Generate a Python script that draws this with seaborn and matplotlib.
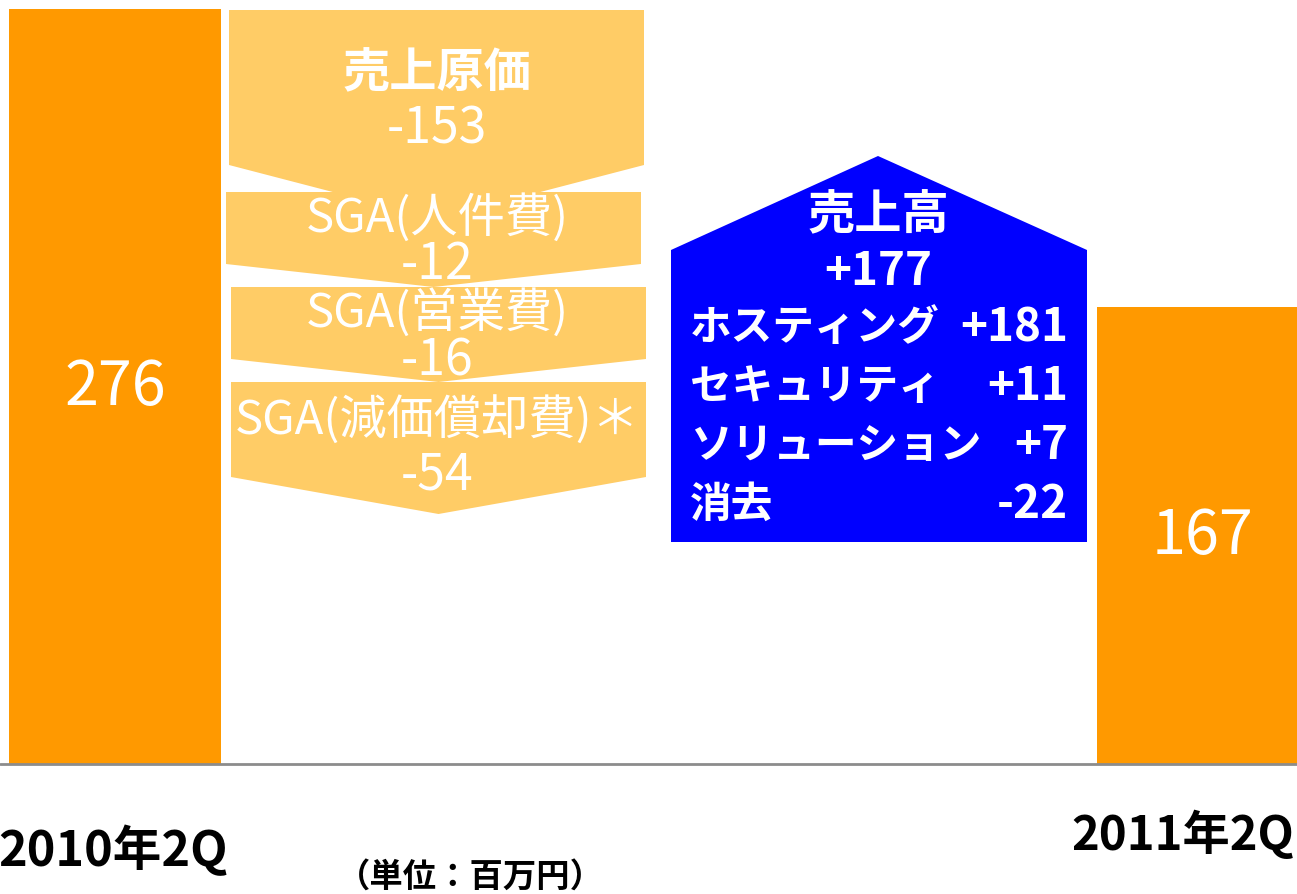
import matplotlib
matplotlib.use("Agg")
import matplotlib.pyplot as plt
from matplotlib.patches import Polygon
import seaborn as sns

# データ (単位: 百万円)
periods = ["2010年2Q", "2011年2Q"]
op_profit = [276, 167]

cost_items = ["売上原価", "SGA(人件費)", "SGA(営業費)", "SGA(減価償却費)＊"]
cost_values = [-153, -12, -16, -54]

sales_total = 177
sales_items = ["ホスティング", "セキュリティ", "ソリューション", "消去"]
sales_values = [181, 11, 7, -22]

unit_label = "（単位：百万円）"

sns.set_style("white")
plt.rcParams['font.family'] = ['Noto Sans CJK JP', 'DejaVu Sans']

W, H = 1297, 895
fig = plt.figure(figsize=(W / 100, H / 100), dpi=100)
ax = fig.add_axes([0, 0, 1, 1])


def px(x, y):
    # ピクセル位置 -> axes座標
    return (x / W, 1 - y / H)


# 営業利益の棒
sns.barplot(x=periods, y=op_profit, color="#FF9900", saturation=1,
            width=0.194, linewidth=0, ax=ax)
ax.set_xlim(-0.1057, 1.0864)
ax.set_ylim(-47.5, 279.7)
ax.axis('off')
ax.axhline(0, color="#8c8c8c", lw=2, zorder=1)

for i, v in enumerate(op_profit):
    ax.text(i, v / 2, str(v), color="white", fontsize=44,
            ha="center", va="center")

# コスト (下向き矢印)
arrows = [
    (229, 644, 11, 166, 220),
    (226, 641, 193, 265, 288),
    (231, 646, 288, 360, 383),
    (231, 646, 383, 478, 515),
]
label_y = [(73, 130), (218, 265), (313, 362), (420, 476)]
for k, ((x0, x1, yt, yb, tip), (ly, vy)) in enumerate(zip(arrows, label_y)):
    cx = (x0 + x1) / 2
    pts = [px(x0, yt), px(x1, yt), px(x1, yb), px(cx, tip), px(x0, yb)]
    ax.add_patch(Polygon(pts, closed=True, transform=ax.transAxes,
                         facecolor="#FFCC66", edgecolor="none", zorder=3 + k))
    bold = "bold" if k == 0 else "normal"
    ax.text(*px(437, ly), cost_items[k], transform=ax.transAxes, color="white",
            fontsize=34, fontweight=bold, ha="center", va="center", zorder=10)
    ax.text(*px(437, vy), f"{cost_values[k]:d}", transform=ax.transAxes,
            color="white", fontsize=36, ha="center", va="center", zorder=10)

# 売上高 (上向き矢印)
house = [px(671, 543), px(671, 251), px(878, 157), px(1087, 251), px(1087, 543)]
ax.add_patch(Polygon(house, closed=True, transform=ax.transAxes,
                     facecolor="#0000FF", edgecolor="none", zorder=3))
ax.text(*px(878, 215), "売上高", transform=ax.transAxes, color="white",
        fontsize=34, fontweight="bold", ha="center", va="center", zorder=10)
ax.text(*px(878, 272), f"+{sales_total}", transform=ax.transAxes, color="white",
        fontsize=33, fontweight="bold", ha="center", va="center", zorder=10)
for k, (name, v) in enumerate(zip(sales_items, sales_values)):
    y = 328 + k * 59
    ax.text(*px(690, y), name, transform=ax.transAxes, color="white",
            fontsize=30, fontweight="bold", ha="left", va="center", zorder=10)
    ax.text(*px(1068, y), f"{v:+d}", transform=ax.transAxes, color="white",
            fontsize=33, fontweight="bold", ha="right", va="center", zorder=10)

# 期間ラベル
ax.text(*px(113, 850), periods[0], transform=ax.transAxes, color="black",
        fontsize=35, fontweight="bold", ha="center", va="center")
ax.text(*px(1183, 835), periods[1], transform=ax.transAxes, color="black",
        fontsize=34, fontweight="bold", ha="center", va="center")
ax.text(*px(470, 877), unit_label, transform=ax.transAxes, color="black",
        fontsize=24, fontweight="bold", ha="center", va="center")

fig.savefig("out.png", dpi=100)
